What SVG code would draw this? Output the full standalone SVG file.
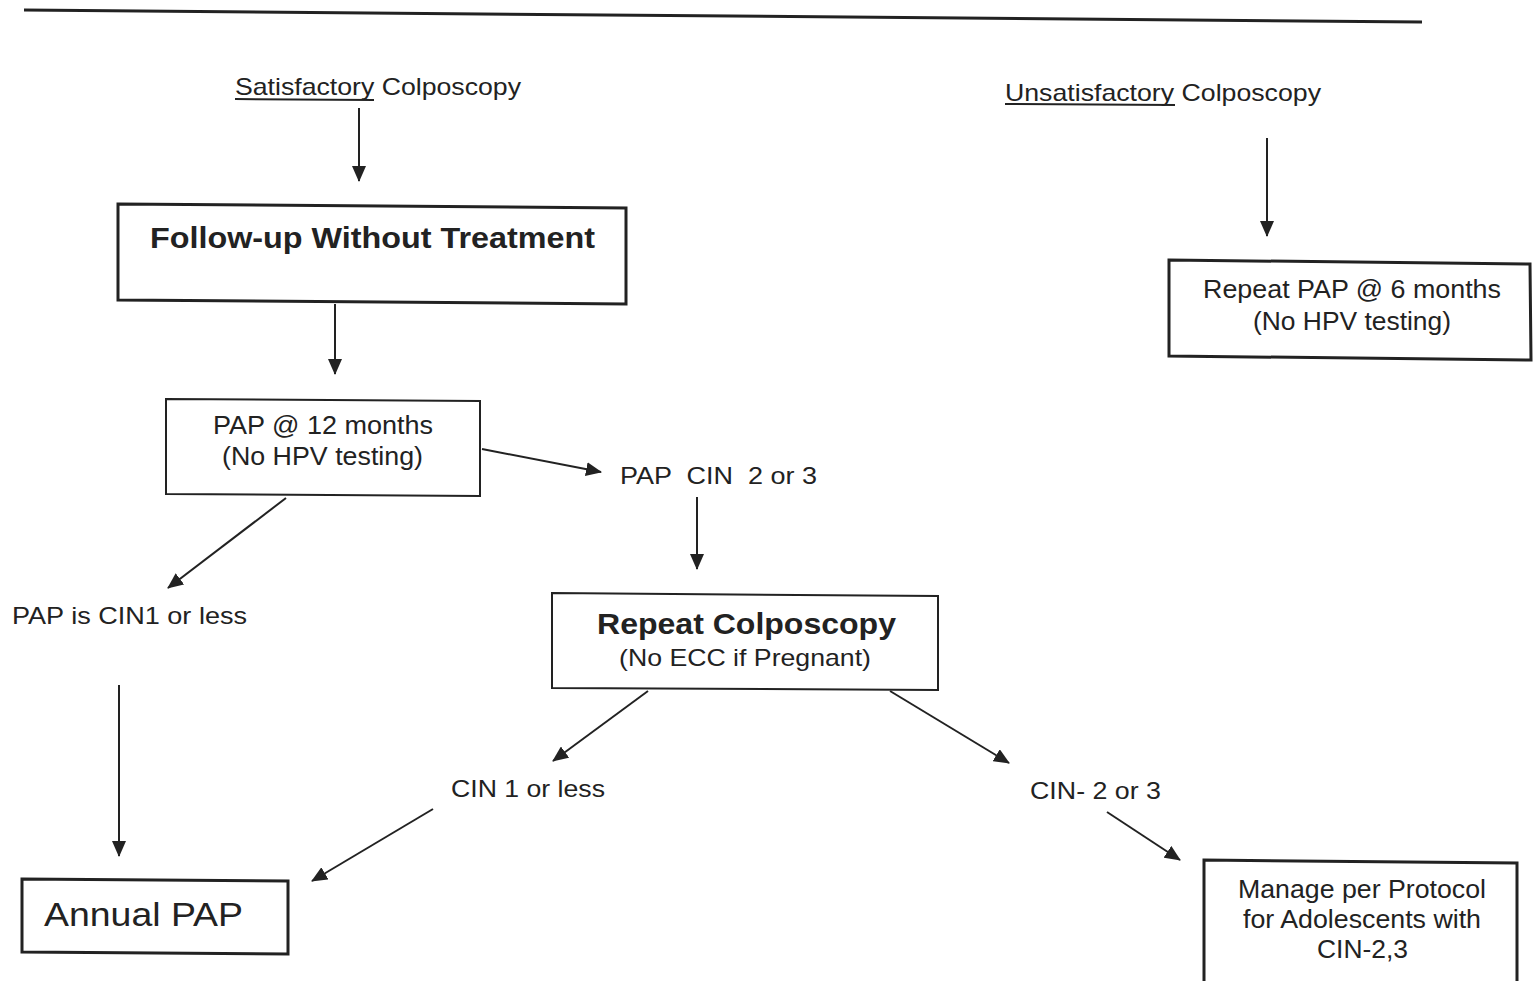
<svg xmlns="http://www.w3.org/2000/svg" width="1533" height="981" viewBox="0 0 1533 981">
<style>
text { font-family: "Liberation Sans", Arial, sans-serif; fill: #222; }
.t24 { font-size: 24px; }
.t25 { font-size: 25px; }
.b { font-weight: bold; font-size: 29px; }
.box { fill: #fff; stroke: #222; stroke-width: 3; }
.thin { stroke-width: 2; }
.c { stroke: #222; stroke-width: 2; fill: none; marker-end: url(#ah); }
.ul { stroke: #222; stroke-width: 2; }
</style>
<defs>
<marker id="ah" viewBox="0 0 16 14" refX="15" refY="7" markerWidth="16" markerHeight="14" orient="auto" markerUnits="userSpaceOnUse">
<path d="M0,0 L16,7 L0,14 z" fill="#222"/>
</marker>
</defs>
<rect width="1533" height="981" fill="#fff"/>
<line x1="24" y1="10" x2="1422" y2="22" stroke="#222" stroke-width="3"/>

<g id="satisfactory">
<text class="t24" x="235" y="95" textLength="286" lengthAdjust="spacingAndGlyphs">Satisfactory Colposcopy</text>
<line class="ul" x1="235" y1="99" x2="374" y2="100"/>
</g>
<g id="unsatisfactory">
<text class="t24" x="1005" y="101" textLength="316" lengthAdjust="spacingAndGlyphs">Unsatisfactory Colposcopy</text>
<line class="ul" x1="1005" y1="104" x2="1175" y2="105"/>
</g>
<g id="followup">
<path class="box" d="M118,204 L626,208 L626,304 L118,300 Z"/>
<text class="b" x="150" y="248" textLength="445" lengthAdjust="spacingAndGlyphs">Follow-up Without Treatment</text>
</g>
<g id="repeat6">
<path class="box" d="M1169,260 L1530,264 L1531,360 L1169,356 Z"/>
<text class="t25" x="1203" y="298" textLength="298" lengthAdjust="spacingAndGlyphs">Repeat PAP @ 6 months</text>
<text class="t25" x="1253" y="330" textLength="198" lengthAdjust="spacingAndGlyphs">(No HPV testing)</text>
</g>
<g id="pap12">
<path class="box thin" d="M166,399 L480,401 L480,496 L166,494 Z"/>
<text class="t25" x="213" y="434" textLength="220" lengthAdjust="spacingAndGlyphs">PAP @ 12 months</text>
<text class="t25" x="222" y="465" textLength="201" lengthAdjust="spacingAndGlyphs">(No HPV testing)</text>
</g>
<g id="papcin23">
<text class="t24" x="620" y="484" textLength="197" lengthAdjust="spacingAndGlyphs" xml:space="preserve">PAP  CIN  2 or 3</text>
</g>
<g id="papcin1">
<text class="t24" x="12" y="624" textLength="235" lengthAdjust="spacingAndGlyphs">PAP is CIN1 or less</text>
</g>
<g id="repeatcolpo">
<path class="box thin" d="M552,593 L938,596 L938,690 L552,688 Z"/>
<text class="b" x="597" y="634" textLength="299" lengthAdjust="spacingAndGlyphs">Repeat Colposcopy</text>
<text class="t24" x="619" y="666" textLength="252" lengthAdjust="spacingAndGlyphs">(No ECC if Pregnant)</text>
</g>
<g id="cin1less">
<text class="t24" x="451" y="797" textLength="154" lengthAdjust="spacingAndGlyphs">CIN 1 or less</text>
</g>
<g id="cin23">
<text class="t24" x="1030" y="799" textLength="131" lengthAdjust="spacingAndGlyphs">CIN- 2 or 3</text>
</g>
<g id="annual">
<path class="box" d="M22,879 L288,881 L288,954 L22,952 Z"/>
<text x="44" y="926" style="font-size:34px" textLength="199" lengthAdjust="spacingAndGlyphs">Annual PAP</text>
</g>
<g id="manage">
<path class="box" d="M1204,860 L1517,863 L1517,984 L1204,984 Z"/>
<text class="t25" x="1238" y="898" textLength="248" lengthAdjust="spacingAndGlyphs">Manage per Protocol</text>
<text class="t25" x="1243" y="928" textLength="238" lengthAdjust="spacingAndGlyphs">for Adolescents with</text>
<text class="t25" x="1317" y="958" textLength="91" lengthAdjust="spacingAndGlyphs">CIN-2,3</text>
</g>

<g id="connectors">
<line class="c" x1="359" y1="108" x2="359" y2="181"/>
<line class="c" x1="1267" y1="138" x2="1267" y2="236"/>
<line class="c" x1="335" y1="304" x2="335" y2="374"/>
<line class="c" x1="482" y1="449" x2="601" y2="472"/>
<line class="c" x1="697" y1="497" x2="697" y2="569"/>
<line class="c" x1="286" y1="498" x2="168" y2="588"/>
<line class="c" x1="119" y1="685" x2="119" y2="856"/>
<line class="c" x1="648" y1="691" x2="553" y2="761"/>
<line class="c" x1="890" y1="691" x2="1009" y2="763"/>
<line class="c" x1="433" y1="809" x2="312" y2="881"/>
<line class="c" x1="1107" y1="812" x2="1180" y2="860"/>
</g>
</svg>
